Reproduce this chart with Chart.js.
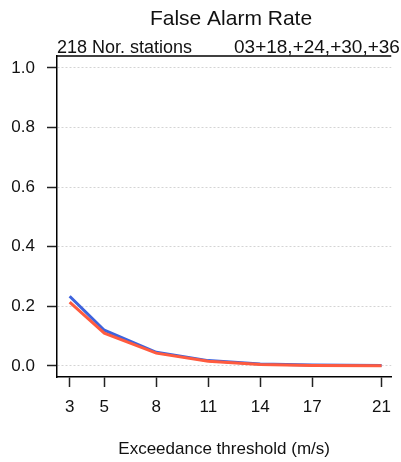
<!DOCTYPE html>
<html>
<head>
<meta charset="utf-8">
<script src="https://cdn.jsdelivr.net/npm/chart.js@4/dist/chart.umd.min.js"></script>
<style>
  html, body { margin: 0; padding: 0; background: #fff; }
  #wrap { width: 401px; height: 462px; }
</style>
</head>
<body>
<div id="wrap"><canvas id="farChart"></canvas></div>
<script>
// data
const thresholds = [3, 5, 8, 11, 14, 17, 21];
const farBlue = [0.234, 0.120, 0.046, 0.018, 0.007, 0.003, 0.002];
const farRed = [0.214, 0.110, 0.043, 0.016, 0.005, 0.002, 0.001];
const yTicks = [0, 0.2, 0.4, 0.6, 0.8, 1.0];

const titleText = 'False Alarm Rate';
const leftNote = '218 Nor. stations';
const rightNote = '03+18,+24,+30,+36';
const xTitle = 'Exceedance threshold (m/s)';

const FONT = "'Liberation Sans', Arial, Helvetica, sans-serif";

const toPoints = (xs, ys) => xs.map((x, i) => ({ x: x, y: ys[i] }));

// title, notes and top edge of the box
const framePlugin = {
    id: 'frame',
    afterDraw(chart) {
        const ctx = chart.ctx;
        const a = chart.chartArea;
        ctx.save();
        ctx.strokeStyle = '#000';
        ctx.lineWidth = 1.5;
        ctx.beginPath();
        ctx.moveTo(a.left, a.top);
        ctx.lineTo(a.right, a.top);
        ctx.stroke();

        ctx.fillStyle = '#111';
        ctx.textBaseline = 'middle';
        ctx.textAlign = 'center';
        ctx.font = '21px ' + FONT;
        ctx.fillText(titleText, 231, 19);

        ctx.textAlign = 'left';
        ctx.font = '18px ' + FONT;
        ctx.fillText(leftNote, 57, 48);
        ctx.font = '19px ' + FONT;
        ctx.fillText(rightNote, 234, 48);
        ctx.restore();
    }
};

// first dataset is drawn on top, so red goes first
const cfg = {
    type: 'line',
    data: {
        datasets: [
            {
                data: toPoints(thresholds, farRed),
                borderColor: '#FF5B3F',
                borderWidth: 3,
                pointRadius: 0,
                tension: 0
            },
            {
                data: toPoints(thresholds, farBlue),
                borderColor: '#3E63DD',
                borderWidth: 3,
                pointRadius: 0,
                tension: 0
            }
        ]
    },
    options: {
        responsive: true,
        maintainAspectRatio: false,
        animation: false,
        layout: { padding: { top: 56, left: 0, right: 0, bottom: 0 } },
        plugins: {
            legend: { display: false },
            tooltip: { enabled: false },
            title: { display: false }
        },
        scales: {
            x: {
                type: 'linear',
                min: 2.27,
                max: 21.56,
                afterFit: s => { s.height = 85; },
                afterBuildTicks: s => { s.ticks = thresholds.map(v => ({ value: v })); },
                grid: {
                    drawOnChartArea: false,
                    drawTicks: true,
                    tickLength: 10,
                    tickColor: '#222',
                    tickWidth: 1.5
                },
                border: { display: true, color: '#000', width: 1.5 },
                ticks: {
                    color: '#111',
                    padding: 10,
                    maxRotation: 0,
                    autoSkip: false,
                    font: { family: FONT, size: 17 }
                },
                title: {
                    display: true,
                    text: xTitle,
                    color: '#111',
                    padding: { top: 0, bottom: 2 },
                    font: { family: FONT, size: 17 }
                }
            },
            y: {
                min: -0.037,
                max: 1.04,
                afterFit: s => { s.width = 57; },
                afterBuildTicks: s => { s.ticks = yTicks.map(v => ({ value: v })); },
                grid: {
                    color: '#d4d4d4',
                    lineWidth: 1,
                    tickLength: 10,
                    tickColor: '#222',
                    tickWidth: 1.5
                },
                border: { display: true, color: '#000', width: 1.5, dash: [2, 2] },
                ticks: {
                    color: '#111',
                    padding: 12,
                    autoSkip: false,
                    font: { family: FONT, size: 17 },
                    callback: v => v.toFixed(1)
                }
            }
        }
    },
    plugins: [framePlugin]
};

const farCtx = document.getElementById('farChart').getContext('2d');
const farChart = new Chart(farCtx, cfg);
</script>
</body>
</html>
